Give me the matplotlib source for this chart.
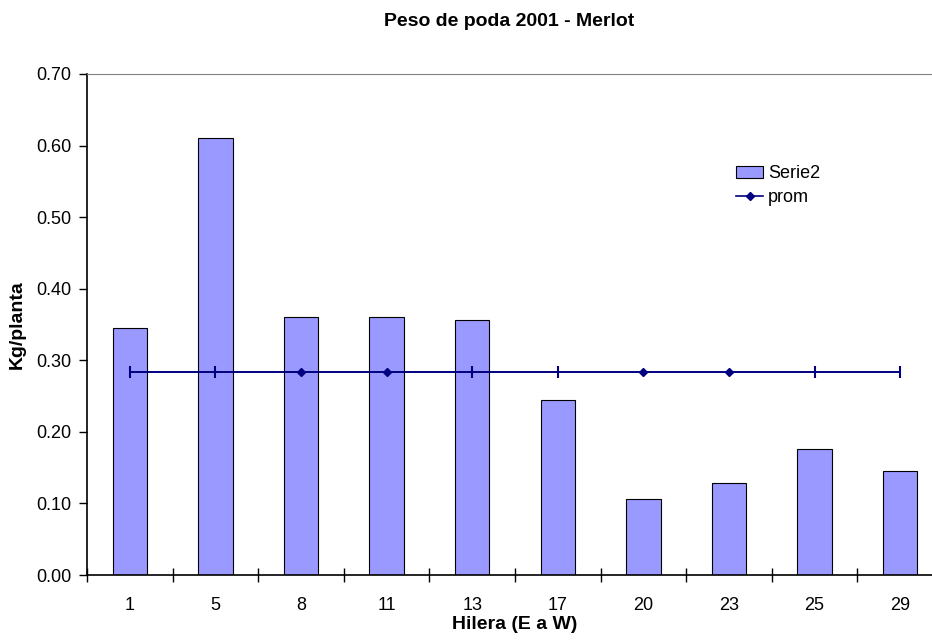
import matplotlib.pyplot as plt
import numpy as np

plt.rcParams['font.family'] = ['Liberation Sans', 'DejaVu Sans']

# Data
hileras = ['1', '5', '8', '11', '13', '17', '20', '23', '25', '29']
serie2 = [0.345, 0.610, 0.360, 0.360, 0.356, 0.244, 0.106, 0.129, 0.176, 0.146]
prom = [0.283] * len(hileras)

W, H = 932, 644
fig = plt.figure(figsize=(W / 100, H / 100), dpi=100)
# plot area runs past the right edge of the picture, as in the original
ax = fig.add_axes([87 / W, 1 - 575 / H, (943 - 87) / W, (575 - 74) / H])

x = np.arange(len(hileras))
ax.bar(x, serie2, width=0.4, color='#9999FF', edgecolor='black', linewidth=0.8,
       label='Serie2', zorder=2)
# the original shows diamonds on some points and thin ticks on the others
diam = [2, 3, 6, 7]
tick = [i for i in x if i not in diam]
ax.plot(x, prom, color='#000080', linewidth=1.2, zorder=3)
ax.plot(x, prom, color='#000080', linewidth=1.2, marker='D', markersize=4,
        markevery=diam, label='prom', zorder=3)
ax.plot(x[tick], np.array(prom)[tick], linestyle='none', color='#000080',
        marker='|', markersize=8, markeredgewidth=1.5, zorder=3)

ax.set_xlim(-0.5, len(hileras) - 0.5)
ax.set_ylim(0, 0.70)
ax.set_yticks(np.arange(0, 0.71, 0.10))
ax.set_yticklabels(['%.2f' % v for v in np.arange(0, 0.71, 0.10)])
ax.set_xticks(x)
ax.set_xticklabels(hileras)
ax.set_xticks(np.arange(-0.5, len(hileras)), minor=True)
ax.tick_params(axis='x', which='major', length=0, pad=16, labelsize=13)
ax.tick_params(axis='x', which='minor', direction='inout', length=10, width=1)
ax.tick_params(axis='y', direction='out', length=6, width=1, labelsize=13, pad=5)

ax.spines['top'].set_color('#808080')
ax.spines['right'].set_visible(False)
for s in ('left', 'bottom'):
    ax.spines[s].set_linewidth(1.2)

ax.set_xlabel('Hilera (E a W)', fontweight='bold', fontsize=14, labelpad=1)
ax.set_ylabel('Kg/planta', fontweight='bold', fontsize=14)
ax.yaxis.set_label_coords(-61 / (943 - 87), 0.5)
fig.text(509 / W, 1 - 22 / H, 'Peso de poda 2001 - Merlot', ha='center', va='center',
         fontweight='bold', fontsize=14)

ax.legend(handles=ax.get_legend_handles_labels()[0][::-1],
          loc='upper left', bbox_to_anchor=((729 - 87) / (943 - 87), (575 - 158) / (575 - 74)),
          frameon=False, fontsize=13, handlelength=1.5, handletextpad=0.25,
          labelspacing=0.4, borderaxespad=0)

fig.savefig('out.png', dpi=100)
